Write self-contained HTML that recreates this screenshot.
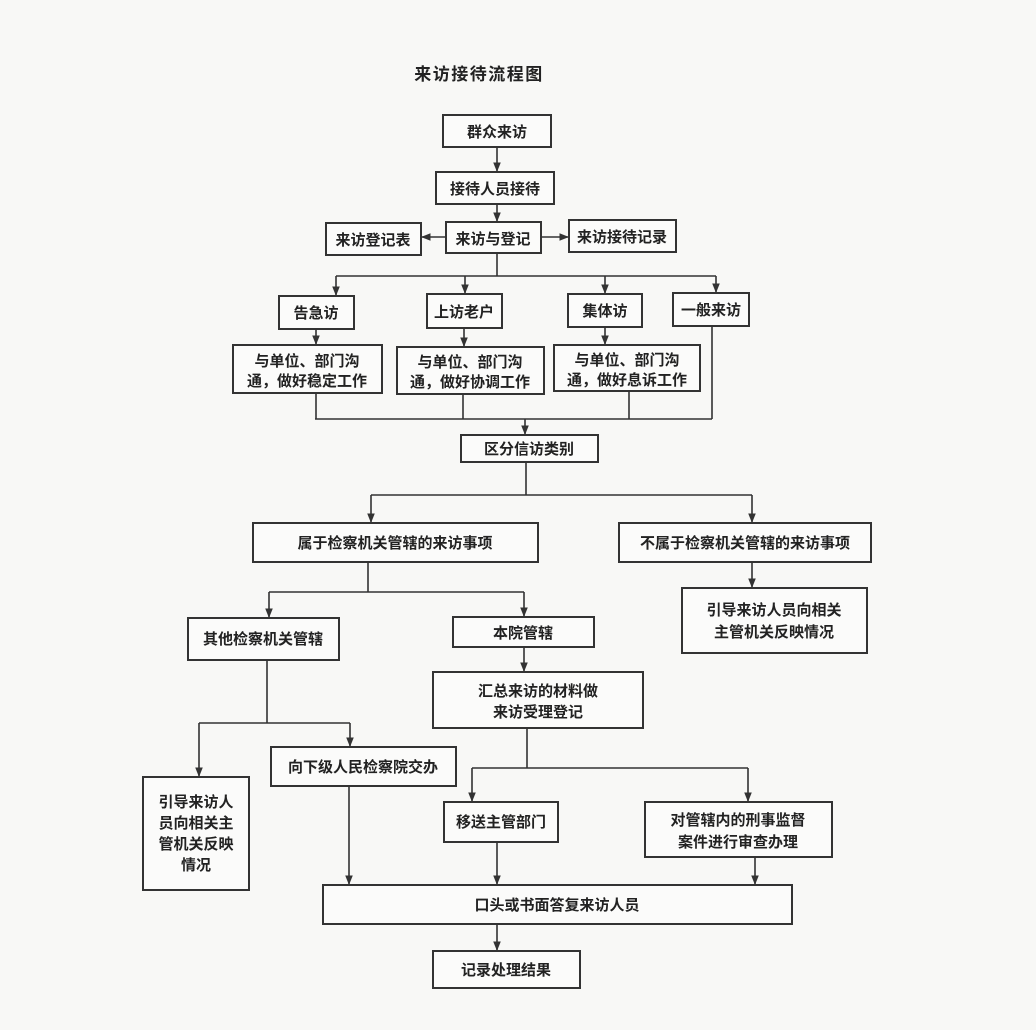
<!DOCTYPE html>
<html><head><meta charset="utf-8"><style>
html,body{margin:0;padding:0;background:#f8f8f6;}
svg{display:block}
text{font-family:"Liberation Sans","Noto Sans CJK SC",sans-serif;font-weight:bold;fill:#222;font-size:15px;text-anchor:middle;}
rect{fill:#fbfbfa;stroke:#333;stroke-width:2}
line,polyline{stroke:#333;stroke-width:1.6;fill:none}
</style></head><body>
<svg width="1036" height="1030" viewBox="0 0 1036 1030">
<defs><marker id="a" viewBox="0 0 10 10" refX="9" refY="5" markerWidth="6" markerHeight="6" orient="auto"><path d="M0,1 L10,5 L0,9 z" fill="#333"/></marker></defs>
<text x="479" y="80" style="font-size:17px;letter-spacing:1.5px">来访接待流程图</text>

<rect x="443" y="115" width="108" height="32"/><text x="497" y="137">群众来访</text>
<line x1="497" y1="147" x2="497" y2="171" marker-end="url(#a)"/>
<rect x="436" y="172" width="118" height="32"/><text x="495" y="194">接待人员接待</text>
<line x1="497" y1="204" x2="497" y2="221" marker-end="url(#a)"/>
<rect x="446" y="222" width="95" height="31"/><text x="493" y="244">来访与登记</text>
<line x1="446" y1="237" x2="422" y2="237" marker-end="url(#a)"/>
<rect x="326" y="223" width="95" height="32"/><text x="373" y="245">来访登记表</text>
<line x1="541" y1="237" x2="568" y2="237" marker-end="url(#a)"/>
<rect x="569" y="220" width="107" height="32"/><text x="622" y="242">来访接待记录</text>

<line x1="497" y1="253" x2="497" y2="276"/>
<line x1="336" y1="276" x2="716" y2="276"/>
<line x1="336" y1="276" x2="336" y2="295" marker-end="url(#a)"/>
<line x1="465" y1="276" x2="465" y2="293" marker-end="url(#a)"/>
<line x1="605" y1="276" x2="605" y2="293" marker-end="url(#a)"/>
<line x1="716" y1="276" x2="716" y2="292" marker-end="url(#a)"/>

<rect x="279" y="296" width="75" height="33"/><text x="316" y="318">告急访</text>
<rect x="427" y="294" width="75" height="34"/><text x="464" y="317">上访老户</text>
<rect x="568" y="294" width="74" height="33"/><text x="605" y="316">集体访</text>
<rect x="673" y="293" width="76" height="33"/><text x="711" y="315">一般来访</text>

<line x1="316" y1="329" x2="316" y2="344" marker-end="url(#a)"/>
<line x1="464" y1="328" x2="464" y2="346" marker-end="url(#a)"/>
<line x1="605" y1="327" x2="605" y2="344" marker-end="url(#a)"/>
<rect x="233" y="345" width="149" height="48"/><text x="307" y="366">与单位、部门沟</text><text x="307" y="386">通，做好稳定工作</text>
<rect x="397" y="347" width="147" height="47"/><text x="470" y="367">与单位、部门沟</text><text x="470" y="387">通，做好协调工作</text>
<rect x="554" y="345" width="146" height="46"/><text x="627" y="365">与单位、部门沟</text><text x="627" y="385">通，做好息诉工作</text>

<line x1="316" y1="393" x2="316" y2="419"/>
<line x1="463" y1="394" x2="463" y2="419"/>
<line x1="629" y1="391" x2="629" y2="419"/>
<line x1="712" y1="326" x2="712" y2="419"/>
<line x1="315" y1="419" x2="712" y2="419"/>
<line x1="525" y1="419" x2="525" y2="434" marker-end="url(#a)"/>
<rect x="461" y="435" width="137" height="27"/><text x="529" y="454">区分信访类别</text>

<line x1="526" y1="462" x2="526" y2="495"/>
<line x1="371" y1="495" x2="752" y2="495"/>
<line x1="371" y1="495" x2="371" y2="522" marker-end="url(#a)"/>
<line x1="752" y1="495" x2="752" y2="522" marker-end="url(#a)"/>
<rect x="253" y="523" width="285" height="39"/><text x="395" y="548">属于检察机关管辖的来访事项</text>
<rect x="619" y="523" width="252" height="39"/><text x="745" y="548">不属于检察机关管辖的来访事项</text>
<line x1="752" y1="562" x2="752" y2="587" marker-end="url(#a)"/>
<rect x="682" y="588" width="185" height="65"/><text x="774" y="615">引导来访人员向相关</text><text x="774" y="637">主管机关反映情况</text>

<line x1="368" y1="562" x2="368" y2="592"/>
<line x1="269" y1="592" x2="524" y2="592"/>
<line x1="269" y1="592" x2="269" y2="617" marker-end="url(#a)"/>
<line x1="524" y1="592" x2="524" y2="616" marker-end="url(#a)"/>
<rect x="188" y="618" width="151" height="42"/><text x="263" y="644">其他检察机关管辖</text>
<rect x="453" y="617" width="141" height="30"/><text x="523" y="638">本院管辖</text>
<line x1="524" y1="647" x2="524" y2="671" marker-end="url(#a)"/>
<rect x="433" y="672" width="210" height="56"/><text x="538" y="696">汇总来访的材料做</text><text x="538" y="717">来访受理登记</text>

<line x1="267" y1="660" x2="267" y2="723"/>
<line x1="199" y1="723" x2="350" y2="723"/>
<line x1="199" y1="723" x2="199" y2="776" marker-end="url(#a)"/>
<line x1="350" y1="723" x2="350" y2="746" marker-end="url(#a)"/>
<rect x="143" y="777" width="106" height="113"/>
<text x="196" y="807">引导来访人</text><text x="196" y="828">员向相关主</text><text x="196" y="849">管机关反映</text><text x="196" y="870">情况</text>
<rect x="271" y="747" width="185" height="39"/><text x="363" y="772">向下级人民检察院交办</text>

<line x1="527" y1="728" x2="527" y2="768"/>
<line x1="472" y1="768" x2="748" y2="768"/>
<line x1="472" y1="768" x2="472" y2="801" marker-end="url(#a)"/>
<line x1="748" y1="768" x2="748" y2="801" marker-end="url(#a)"/>
<rect x="444" y="802" width="114" height="40"/><text x="501" y="827">移送主管部门</text>
<rect x="645" y="802" width="187" height="55"/><text x="738" y="825">对管辖内的刑事监督</text><text x="738" y="847">案件进行审查办理</text>

<line x1="349" y1="786" x2="349" y2="884" marker-end="url(#a)"/>
<line x1="497" y1="842" x2="497" y2="884" marker-end="url(#a)"/>
<line x1="755" y1="857" x2="755" y2="884" marker-end="url(#a)"/>
<rect x="323" y="885" width="469" height="39"/><text x="557" y="910">口头或书面答复来访人员</text>
<line x1="497" y1="924" x2="497" y2="950" marker-end="url(#a)"/>
<rect x="433" y="951" width="147" height="37"/><text x="506" y="975">记录处理结果</text>
</svg>
</body></html>
